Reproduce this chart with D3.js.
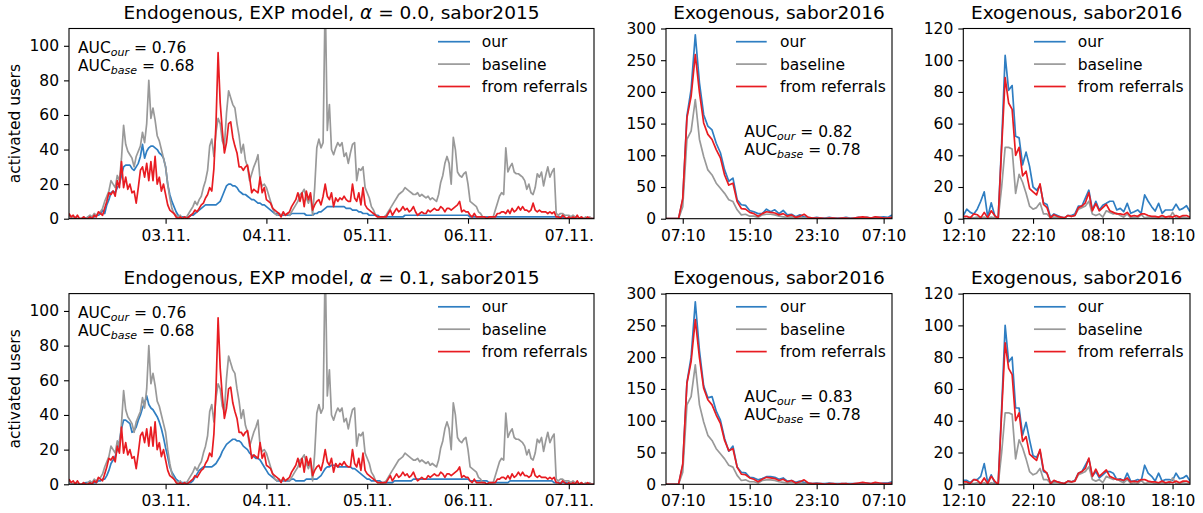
<!DOCTYPE html>
<html><head><meta charset="utf-8">
<script src="https://cdn.jsdelivr.net/npm/d3@7"></script>
<style>body{margin:0;background:#fff}svg text{font-family:"DejaVu Sans",sans-serif;}</style>
</head><body><svg id="c" width="1203" height="513"></svg>
<script>
// ---------- DATA ----------
const seriesNames = ["our", "baseline", "from referrals"];

// Endogenous (sabor2015): 30-min bins starting 02.11. 01:00 (hours since 02.11. 00:00)
const endoStartHour = 1, endoBinHours = 0.5;
const endoTickHours = [24, 48, 72, 96, 120];
const endoTickLabels = ["03.11.", "04.11.", "05.11.", "06.11.", "07.11."];
const endoYTicks = [0, 20, 40, 60, 80, 100];

const endoBaseline = [2,1,0,1,0,0,0,1,0,1,
 2,1,3,2,3,4,6,10,13,16,
 22,20,18,25,22,35,54,43,39,37,
 35,30,36,39,42,50,44,55,80,58,
 64,57,48,45,40,35,30,20,12,6,
 3,2,1,2,0,1,1,3,5,7,
 10,8,11,13,18,22,28,42,46,36,
 50,58,55,45,42,61,74,70,66,64,
 55,48,38,43,34,30,22,26,30,33,
 37,22,19,20,18,14,10,6,3,2,
 3,2,3,2,3,2,4,6,8,10,
 14,15,17,12,9,13,2,18,41,46,
 41,44,130,51,66,40,37,41,44,42,
 44,36,38,32,38,43,44,22,29,28,
 30,18,15,12,7,5,2,1,1,0,
 1,2,4,6,8,10,12,14,15,16,
 18,17,16,15,14,14,15,13,14,13,
 12,13,11,12,11,10,14,21,25,32,
 36,32,20,47,40,27,25,24,26,27,
 20,10,9,8,7,4,3,1,1,0,
 1,0,1,5,9,13,15,14,41,27,
 30,32,27,26,26,25,24,22,17,20,
 15,14,18,26,24,27,19,25,30,24,
 27,29,3,2,3,3,2,2,2,1,
 2,1,1,0,1,0,1,0,1,0,0];

const endoReferrals = [3,1,2,0,2,0,0,1,0,0,
 1,0,2,1,4,3,2,6,10,15,
 14,16,13,22,18,33,18,24,17,20,
 15,16,9,18,28,30,24,32,22,33,
 22,36,20,24,16,20,14,8,5,4,
 3,1,0,1,0,1,0,1,2,3,
 5,4,6,8,9,12,14,18,16,29,
 55,96,67,51,38,44,55,56,47,42,
 38,30,30,28,30,31,24,15,17,16,
 15,24,15,18,11,10,9,6,5,4,
 3,1,4,2,3,4,7,9,11,15,
 10,15,7,16,11,15,5,8,10,11,
 8,13,20,13,11,15,7,12,10,12,
 11,13,11,10,10,20,12,10,15,8,
 18,8,6,5,4,3,2,1,1,1,
 1,1,3,5,2,4,6,4,5,7,
 5,6,4,5,7,4,2,3,4,3,
 3,5,4,5,6,5,5,7,6,4,
 6,6,5,6,7,8,10,4,5,4,
 4,2,1,3,1,1,1,1,1,0,
 1,1,1,1,3,3,4,4,3,5,
 3,6,4,5,7,5,7,5,5,4,
 5,9,5,4,5,4,4,4,3,4,
 3,4,1,1,0,2,1,0,1,0,
 1,0,2,0,1,0,0,1,0,0,0];

const endoOurAlpha00 = [0,0,0,0,0,0,0,0,0,1,
 1,1,1,2,2,3,5,3,8,11,
 15,16,15,18,20,25,30,31,31,31,
 29,28,30,32,36,43,35,39,41,42,
 42,41,40,38,37,35,30,20,14,10,
 7,4,2,1,1,1,1,1,2,2,
 3,4,5,6,7,8,8,8,8,8,
 8,9,10,13,16,19,20,20,19,19,
 18,16,15,14,14,13,12,11,11,10,
 9,9,8,8,7,6,5,4,3,3,
 2,2,2,2,2,2,3,3,3,3,
 3,3,3,2,2,2,2,3,3,4,
 4,5,6,7,7,7,7,7,7,7,
 7,7,6,6,6,5,5,5,4,4,
 3,3,3,2,2,2,2,2,1,1,
 1,1,1,1,1,1,1,1,1,1,
 2,2,2,2,2,2,2,2,2,2,
 2,2,2,2,2,2,2,2,2,2,
 2,2,2,2,2,2,2,2,2,2,
 2,1,1,1,1,1,1,1,1,1,
 1,1,1,1,1,1,1,1,1,1,
 1,1,1,1,1,1,1,1,1,1,
 1,1,1,1,1,1,1,1,1,1,
 1,1,1,1,1,1,0,0,0,0,
 0,0,0,0,0,0,0,0,0,0,0];

const endoOurAlpha01 = [0,0,0,0,0,0,0,0,1,1,
 1,1,1,1,2,2,3,3,5,8,
 12,14,16,20,25,32,37,37,36,35,
 30,31,33,37,40,44,47,51,46,44,
 43,41,39,36,32,27,21,16,10,7,
 5,3,2,1,1,1,1,1,1,2,
 4,6,8,9,10,10,10,10,10,11,
 12,14,16,19,21,23,24,25,26,26,
 25,25,24,22,21,20,18,17,16,15,
 15,14,12,10,8,6,5,4,3,2,
 2,2,2,2,2,2,3,3,2,2,
 2,2,2,3,3,3,3,3,3,4,
 5,7,9,10,10,11,11,11,10,10,
 10,10,10,10,10,9,9,8,7,6,
 5,4,3,3,2,2,2,2,2,1,
 1,1,1,1,1,2,2,2,2,2,
 2,2,2,2,3,3,3,3,3,3,
 3,3,3,3,3,3,3,3,3,3,
 3,3,3,3,3,3,3,3,3,3,
 3,2,2,2,2,2,2,2,2,2,
 1,1,1,1,1,1,1,1,1,1,
 2,2,2,2,2,2,2,2,2,2,
 2,2,2,2,2,2,2,2,2,2,
 2,1,1,1,1,1,1,1,0,0,
 0,0,0,0,0,0,0,0,0,0,0];

// Exogenous sabor2016 (first): 30-min bins from 05:10 (hours since 05:10)
const exoBBinHours = 0.5;
const exoBTickHours = [2, 10, 18, 26];
const exoBTickLabels = ["07:10", "15:10", "23:10", "07:10"];
const exoBYTicks = [0, 50, 100, 150, 200, 250, 300];
const exoBOurTop = [0,0,0,0,30,162,204,290,214,164,146,140,119,104,77,59,64,30,22,21,13,11,8,8,15,11,14,8,13,6,7,3,6,3,2,1,2,1,1,2,1,1,1,2,1,1,2,1,2,1,2,2,3,2,6];
const exoBOurBottom = [0,0,0,0,30,160,200,287,210,155,136,138,115,101,72,52,60,27,19,18,11,10,7,9,12,12,11,8,10,5,6,3,5,3,2,1,2,1,1,2,1,1,1,1,1,1,1,1,2,1,2,1,2,2,4];
const exoBBaseline = [0,0,0,0,19,125,138,188,125,98,77,69,56,48,40,30,27,14,6,7,4,4,2,6,7,7,6,4,3,2,3,2,2,1,1,0,1,0,0,1,0,0,0,1,0,0,0,0,1,0,0,0,0,0,1];
const exoBReferrals = [0,0,0,0,32,159,193,259,199,151,133,125,109,96,69,53,56,27,16,15,10,8,4,8,11,10,9,6,8,4,6,2,4,7,2,1,1,1,0,1,1,0,1,1,0,1,2,3,2,1,3,2,1,1,2];

// Exogenous sabor2016 (second): 30-min bins from 12:10 (hours since 12:10)
const exoCBinHours = 0.5;
const exoCTickHours = [0, 10, 20, 30];
const exoCTickLabels = ["12:10", "22:10", "08:10", "18:10"];
const exoCYTicks = [0, 20, 40, 60, 80, 100, 120];
const exoCOurTop = [2,6,4,3,6,11,17,1,10,2,0,48,103,81,84,52,51,34,42,33,20,18,21,10,9,1,3,2,1,0.5,2,2,3,8,8,13,18,5.5,11,5.5,8.5,9.7,11,11,5.5,6.5,4.4,9.7,3.4,4.4,5.5,3.4,15,11,7.6,4.8,9.7,3.4,5.5,5.5,5.5,9.2,5.5,6.5,8.2,4.4];
const exoCOurBottom = [2.5,2.5,1,3,3,5,13,1,6,1,0,48,100,77,80,48,48,31,39,28,18,17,21,8,7,1,2,1.5,1,0.5,2,1.5,2.5,7,8,12,16,5,8,4,6,8,8,7,3,3.5,2,7,2,2,3,2,12,7,5,2,7,2,3,3,2.5,7,3.5,4,5.5,2];
const exoCBaseline = [0.5,0,1,0.5,1,0.5,1,0,1,0.5,0,20,45,45,44,16,28,23,16,8,6,7,10,3,3,0.5,1,1,0.5,0.5,2,1.5,2,6,7,8,11,3,2,3,1,5,4,3,3.5,2,1,3,0.5,1,0.5,2.5,0.5,1,1,0.5,0.5,1,0.5,0,4,0.5,0.5,1,0.5,0.5];
const exoCReferrals = [1.5,1.5,0.5,3,2.5,0.5,4,0.5,5,2,0,45,89,73,69,40,45,27,30,19,17,15,22,9,7,0.5,2.5,1.5,1,0.5,2,1.5,2,7,8,10,16.5,5,9.5,5,7,9,5,4,3,3,2.5,4,1.5,2,1.5,3,3,2,1.5,1.5,1,2,1,1.5,1,2,1,2,2,1];

const aucEndoTop = ["0.76", "0.68"];
const aucEndoBottom = ["0.76", "0.68"];
const aucExoTop = ["0.82", "0.78"];
const aucExoBottom = ["0.83", "0.78"];

// ---------- DRAWING ----------
const COL = {our: "#2f7ec2", base: "#999999", ref: "#e81c22"};
const FONT = "DejaVu Sans";
const FS = 15.5, FS_TITLE = 18.5;
const svg = d3.select("#c");

const rows = [{top: 28.5, bottom: 218.7}, {top: 293.6, bottom: 484.3}];
const cols = [
  {left: 69, right: 594, legLine: [438, 470], legText: 481.7},
  {left: 666, right: 892, legLine: [736, 766.7], legText: 780},
  {left: 963.3, right: 1190, legLine: [1034, 1065.7], legText: 1077.7}
];

let clipN = 0;
function drawPanel(o) {
  const r = rows[o.row], c = cols[o.col];
  const x = d3.scaleLinear().domain(o.xDomain).range([c.left, c.right]);
  const y = d3.scaleLinear().domain(o.yDomain).range([r.bottom, r.top]);
  const g = svg.append("g");
  const cid = "clip" + (clipN++);
  g.append("clipPath").attr("id", cid).append("rect")
    .attr("x", c.left).attr("y", r.top).attr("width", c.right - c.left).attr("height", r.bottom - r.top);

  const xa = d3.axisBottom(x).tickValues(o.xTicks).tickFormat((d, i) => o.xLabels[i]).tickSize(5).tickPadding(6);
  const gx = g.append("g").attr("transform", `translate(0,${r.bottom})`).call(xa);
  const ya = d3.axisLeft(y).tickValues(o.yTicks).tickFormat(d3.format("d")).tickSize(5).tickPadding(5);
  const gy = g.append("g").attr("transform", `translate(${c.left},0)`).call(ya);
  [gx, gy].forEach(a => {
    a.attr("font-family", FONT).attr("font-size", FS);
    a.select(".domain").remove();
    a.selectAll(".tick line").attr("stroke", "#000").attr("stroke-width", 1.1);
    a.selectAll(".tick text").attr("fill", "#000");
  });

  const lg = g.append("g").attr("clip-path", `url(#${cid})`);
  o.series.forEach(s => {
    const line = d3.line().x((d, i) => x(o.t0 + i * o.step)).y(d => y(d));
    lg.append("path").datum(s.values).attr("d", line)
      .attr("fill", "none").attr("stroke", s.color).attr("stroke-width", 1.7)
      .attr("stroke-linejoin", "round").attr("stroke-linecap", "butt");
  });

  g.append("rect").attr("x", c.left).attr("y", r.top)
    .attr("width", c.right - c.left).attr("height", r.bottom - r.top)
    .attr("fill", "none").attr("stroke", "#000").attr("stroke-width", 1.1);

  // title
  const t = g.append("text").attr("x", (c.left + c.right) / 2).attr("y", r.top - 10)
    .attr("text-anchor", "middle").attr("font-size", FS_TITLE).attr("fill", "#000");
  o.title.forEach(p => {
    const ts = t.append("tspan").text(p.t);
    if (p.it) ts.attr("font-style", "italic");
  });

  // legend
  const legOff = [13.2, 35.6, 58];
  o.series.forEach((s, i) => {
    const ly = r.top + legOff[i];
    g.append("line").attr("x1", c.legLine[0]).attr("x2", c.legLine[1]).attr("y1", ly).attr("y2", ly)
      .attr("stroke", s.color).attr("stroke-width", 1.7);
    g.append("text").attr("x", c.legText).attr("y", ly).attr("dy", "0.36em")
      .attr("font-size", FS).attr("fill", "#000").text(s.name);
  });

  // AUC
  const subs = ["our", "base"];
  o.auc.vals.forEach((v, i) => {
    const tt = g.append("text").attr("x", o.auc.x).attr("y", r.top + o.auc.y[i])
      .attr("font-size", FS).attr("fill", "#000");
    tt.append("tspan").text("AUC");
    tt.append("tspan").attr("font-style", "italic").attr("font-size", 11).attr("dy", 3).text(subs[i]);
    tt.append("tspan").attr("dy", -3).text(" = " + v);
  });

  if (o.ylabel) {
    const cy = (r.top + r.bottom) / 2;
    g.append("text").attr("transform", `translate(20,${cy}) rotate(-90)`)
      .attr("text-anchor", "middle").attr("font-size", FS).attr("fill", "#000").text(o.ylabel);
  }
}

function mkSeries(our, base, ref) {
  return [
    {name: seriesNames[0], values: our, color: COL.our},
    {name: seriesNames[1], values: base, color: COL.base},
    {name: seriesNames[2], values: ref, color: COL.ref}
  ];
}

const endoTitle = a => [{t: "Endogenous, EXP model, "}, {t: "α", it: true}, {t: " = " + a + ", sabor2015"}];
const exoTitle = [{t: "Exogenous, sabor2016"}];

[0, 1].forEach(row => {
  drawPanel({
    row, col: 0,
    xDomain: [endoStartHour, endoStartHour + (endoBaseline.length - 1) * endoBinHours],
    t0: endoStartHour, step: endoBinHours,
    yDomain: [0, 110], yTicks: endoYTicks,
    xTicks: endoTickHours, xLabels: endoTickLabels,
    series: mkSeries(row === 0 ? endoOurAlpha00 : endoOurAlpha01, endoBaseline, endoReferrals),
    title: endoTitle(row === 0 ? "0.0" : "0.1"),
    auc: {x: 78, y: [24.8, 42.3], vals: row === 0 ? aucEndoTop : aucEndoBottom},
    ylabel: "activated users"
  });
  drawPanel({
    row, col: 1,
    xDomain: [0, (exoBBaseline.length - 1) * exoBBinHours],
    t0: 0, step: exoBBinHours,
    yDomain: [0, 300], yTicks: exoBYTicks,
    xTicks: exoBTickHours, xLabels: exoBTickLabels,
    series: mkSeries(row === 0 ? exoBOurTop : exoBOurBottom, exoBBaseline, exoBReferrals),
    title: exoTitle,
    auc: {x: 744.3, y: [108.2, 126], vals: row === 0 ? aucExoTop : aucExoBottom}
  });
  drawPanel({
    row, col: 2,
    xDomain: [0, (exoCBaseline.length - 1) * exoCBinHours],
    t0: 0, step: exoCBinHours,
    yDomain: [0, 120], yTicks: exoCYTicks,
    xTicks: exoCTickHours, xLabels: exoCTickLabels,
    series: mkSeries(row === 0 ? exoCOurTop : exoCOurBottom, exoCBaseline, exoCReferrals),
    title: exoTitle,
    auc: {x: 0, y: [], vals: []}
  });
});
</script></body></html>
